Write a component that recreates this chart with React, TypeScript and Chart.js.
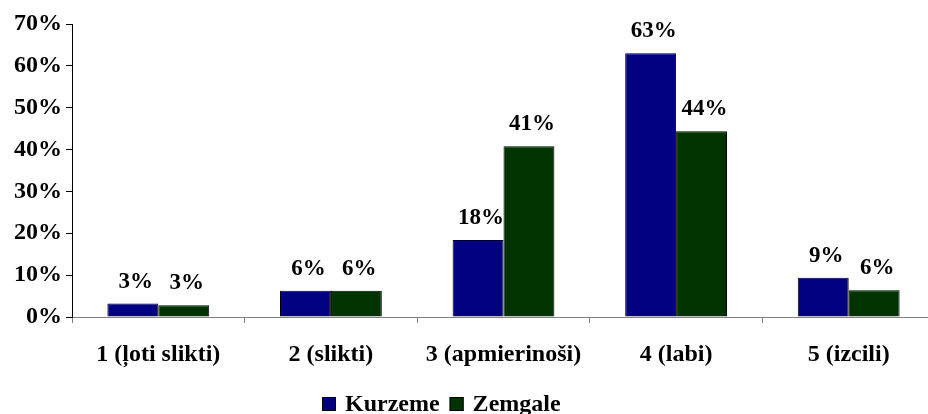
import { useEffect, useRef } from "react";
import { Chart, registerables } from "chart.js";

Chart.register(...registerables);

const categories = ["1 (ļoti slikti)", "2 (slikti)", "3 (apmierinoši)", "4 (labi)", "5 (izcili)"];
const seriesNames = ["Kurzeme", "Zemgale"];
const kurzeme = [3.2, 6.3, 18.4, 63.0, 9.4];
const zemgale = [2.8, 6.3, 40.8, 44.4, 6.4];
const seriesColors = ["#000080", "#003300"];
const yMin = 0;
const yMax = 70;
const yStep = 10;

const FONT = '"Liberation Serif", "Times New Roman", serif';

const valueLabels = {
  id: "valueLabels",
  afterDatasetsDraw(chart: any) {
    const ctx = chart.ctx;
    ctx.save();
    ctx.font = `bold 23px ${FONT}`;
    ctx.fillStyle = "#000";
    ctx.textAlign = "center";
    ctx.textBaseline = "middle";
    chart.data.datasets.forEach((ds: any, i: number) => {
      const meta = chart.getDatasetMeta(i);
      meta.data.forEach((bar: any, j: number) => {
        ctx.fillText(Math.round(ds.data[j]) + "%", bar.x + 3, bar.y - 22);
      });
    });
    ctx.restore();
  },
};

const customLegend = {
  id: "customLegend",
  afterDraw(chart: any) {
    const ctx = chart.ctx;
    ctx.save();
    ctx.font = `bold 24px ${FONT}`;
    ctx.textBaseline = "middle";
    ctx.textAlign = "left";
    const box = 14;
    const gapBoxText = 9;
    const gapItems = 10;
    const items = chart.data.datasets.map((ds: any) => ({
      label: ds.label,
      color: ds.backgroundColor,
      w: ctx.measureText(ds.label).width,
    }));
    let total = 0;
    items.forEach((it: any, i: number) => {
      total += box + gapBoxText + it.w + (i < items.length - 1 ? gapItems : 0);
    });
    const cx = 441;
    const cy = 404;
    let x = Math.round(cx - total / 2);
    items.forEach((it: any) => {
      ctx.fillStyle = it.color;
      ctx.fillRect(x, cy - box / 2, box, box);
      ctx.strokeStyle = "#000";
      ctx.lineWidth = 1;
      ctx.strokeRect(x + 0.5, cy - box / 2 + 0.5, box - 1, box - 1);
      ctx.fillStyle = "#000";
      ctx.fillText(it.label, x + box + gapBoxText, cy + 1);
      x += box + gapBoxText + it.w + gapItems;
    });
    ctx.restore();
  },
};

export default function App() {
  const ref = useRef<HTMLCanvasElement>(null);
  useEffect(() => {
    if (!ref.current) return;
    const chart = new Chart(ref.current, {
      type: "bar",
      data: {
        labels: categories,
        datasets: [
          {
            label: seriesNames[0],
            data: kurzeme,
            backgroundColor: seriesColors[0],
            borderColor: "#000",
            borderWidth: 1,
            categoryPercentage: 0.59,
            barPercentage: 1,
          },
          {
            label: seriesNames[1],
            data: zemgale,
            backgroundColor: seriesColors[1],
            borderColor: "#000",
            borderWidth: 1,
            categoryPercentage: 0.59,
            barPercentage: 1,
          },
        ],
      },
      options: {
        responsive: false,
        animation: false,
        layout: { padding: { top: 24, right: 10, left: 0, bottom: 0 } },
        plugins: {
          legend: { display: false },
          tooltip: { enabled: false },
        },
        scales: {
          x: {
            grid: {
              drawOnChartArea: false,
              tickLength: 6,
              color: "#808080",
              offset: true,
            },
            border: { color: "#808080", width: 1 },
            ticks: {
              font: { family: FONT, size: 24, weight: "bold" },
              color: "#000",
              padding: 17,
              maxRotation: 0,
              autoSkip: false,
            },
            afterFit: (scale: any) => {
              scale.height = 97;
            },
          },
          y: {
            min: yMin,
            max: yMax,
            grid: {
              drawOnChartArea: false,
              tickLength: 6,
              color: "#000",
            },
            border: { color: "#000", width: 1 },
            ticks: {
              stepSize: yStep,
              font: { family: FONT, size: 24, weight: "bold" },
              color: "#000",
              padding: 4,
              callback: (v: any) => v + "%",
            },
            afterFit: (scale: any) => {
              scale.width = 72;
            },
          },
        },
      },
      plugins: [valueLabels, customLegend],
    });
    return () => chart.destroy();
  }, []);
  return (
    <div
      style={{
        position: "absolute",
        left: 0,
        top: 0,
        width: 928,
        height: 414,
        overflow: "hidden",
        background: "#fff",
      }}
    >
      <canvas ref={ref} width={945} height={414} style={{ display: "block" }} />
    </div>
  );
}
